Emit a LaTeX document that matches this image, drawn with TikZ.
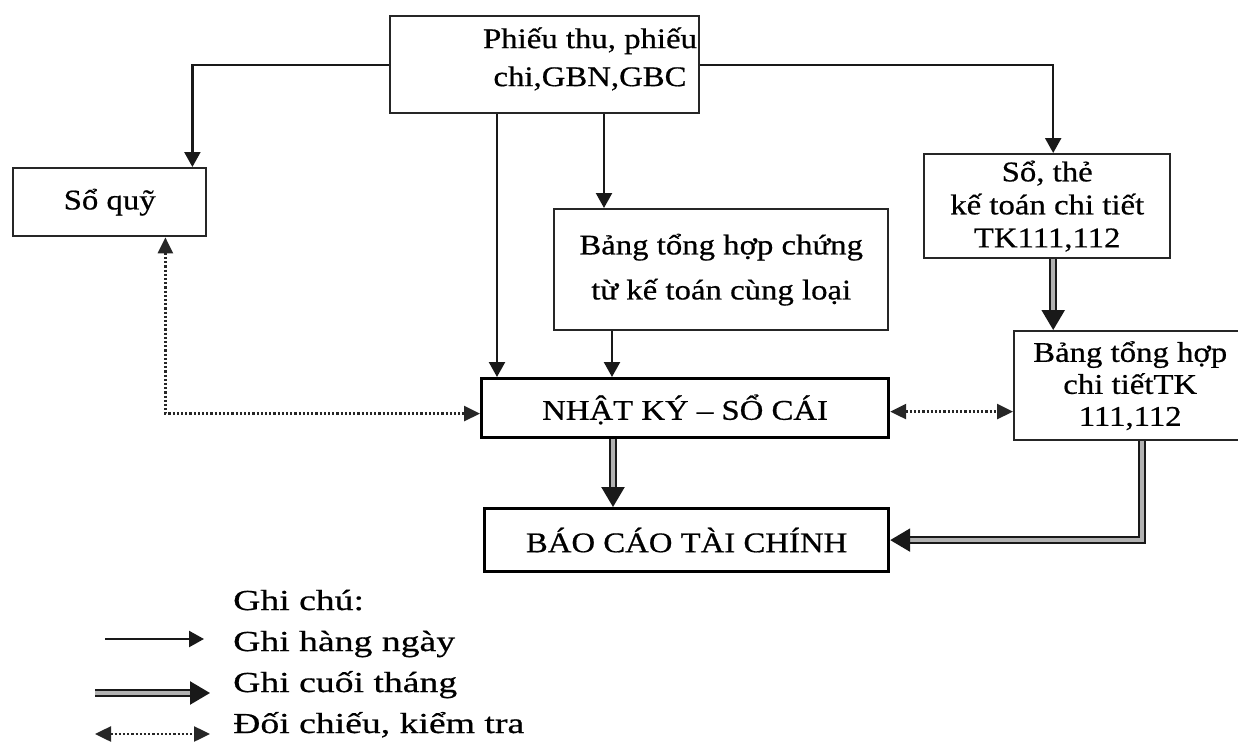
\documentclass[tikz,border=0pt]{standalone}
\usepackage{fontspec}
\setmainfont{Liberation Serif}[FakeStretch=1.15,FakeBold=0.6]
\newfontfamily\legfont{Liberation Serif}[FakeStretch=1.3,FakeBold=0.6]
\usetikzlibrary{arrows.meta,calc}
\begin{document}
\begin{tikzpicture}[x=1bp,y=-1bp,
  box/.style={draw=black!85,line width=2.4bp,rectangle,anchor=north west,inner sep=0pt,align=center,font=\fontsize{28.5bp}{34bp}\selectfont},
  mainbox/.style={box,draw=black,line width=3.2bp},
  arr/.style={draw=black!90,line width=2.3bp,-{Triangle[length=15bp,width=16bp]}},
  dbl/.style={draw=black!90,double=black!30,double distance=3.5bp,line width=2.4bp,-{Triangle[length=20bp,width=23bp]}},
  dotarr/.style={draw=black!85,line width=2.5bp,dash pattern=on 2.2bp off 2bp,{Triangle[length=16bp,width=15bp]}-{Triangle[length=16bp,width=15bp]}},
  legtxt/.style={anchor=base west,inner sep=0pt,font=\legfont\fontsize{29bp}{35bp}\selectfont}
]
\useasboundingbox (0,0) rectangle (1238,749);
\begin{scope}
\clip (0,0) rectangle (1238,749);
\fill[white] (0,0) rectangle (1238,749);
% boxes
\node[box,minimum width=309bp,minimum height=97bp] (top) at (389,15) {};
\node[inner sep=0pt,align=center,font=\fontsize{28.5bp}{38bp}\selectfont] (toptxt) at (590,59) {Phiếu thu, phiếu\\chi,GBN,GBC};
\node[box,minimum width=193bp,minimum height=68bp] (soquy) at (12,167) {Sổ quỹ};
\node[box,minimum width=334bp,minimum height=121bp,font=\fontsize{28.5bp}{45bp}\selectfont] (bthct) at (553,208) {Bảng tổng hợp chứng\\từ kế toán cùng loại};
\node[box,minimum width=246bp,minimum height=104bp,font=\fontsize{28.5bp}{33bp}\selectfont] (sothe) at (923,153) {Sổ, thẻ\\kế toán chi tiết\\TK111,112};
\node[box,minimum width=232bp,minimum height=109bp,font=\fontsize{28.5bp}{32bp}\selectfont] (bthtk) at (1013,330) {Bảng tổng hợp\\chi tiếtTK\\111,112};
\node[mainbox,minimum width=407bp,minimum height=59bp,text depth=2bp] (nksc) at (480,377) {NHẬT KÝ – SỔ CÁI};
\node[mainbox,minimum width=404bp,minimum height=63bp] (bctc) at (483,507) {BÁO CÁO TÀI CHÍNH};
% daily arrows
\draw[arr] (top.west) -| ([xshift=-15bp]soquy.north east);
\draw[arr] (top.east) -| ([xshift=6bp]sothe.north);
\coordinate (t1) at ([xshift=108bp]top.south west);
\draw[arr] (t1) -- (t1 |- nksc.north);
\coordinate (t2) at ([xshift=215bp]top.south west);
\draw[arr] (t2) -- (t2 |- bthct.north);
\coordinate (c1) at ([xshift=59bp]bthct.south west);
\draw[arr] (c1) -- (c1 |- nksc.north);
% month-end arrows
\coordinate (n1) at ([xshift=133bp]nksc.south west);
\draw[dbl] (n1) -- (n1 |- bctc.north);
\coordinate (s1) at ([xshift=6bp]sothe.south);
\draw[dbl] (s1) -- (s1 |- bthtk.north);
\coordinate (b1) at ([xshift=129bp]bthtk.south west);
\draw[dbl] (b1) |- (bctc.east);
% check arrows
\coordinate (q1) at ([xshift=-42bp]soquy.south east);
\draw[dotarr] (q1) |- ([yshift=-5.5bp]nksc.west);
\coordinate (k1) at ([yshift=-3.5bp]nksc.east);
\draw[dotarr] (k1) -- (k1 -| bthtk.west);
% legend
\node[legtxt] (gc) at (233,610) {Ghi chú:};
\node[legtxt] (l1) at (233,651) {Ghi hàng ngày};
\node[legtxt] (l2) at (233,692) {Ghi cuối tháng};
\node[legtxt] (l3) at (233,733) {Đối chiếu, kiểm tra};
\coordinate (a1s) at (105,639); \coordinate (a1e) at (204,639);
\draw[arr] (a1s) -- (a1e);
\coordinate (a2s) at (95,693); \coordinate (a2e) at (210,693);
\draw[dbl] (a2s) -- (a2e);
\coordinate (a3s) at (95,734); \coordinate (a3e) at (210,734);
\draw[dotarr] (a3s) -- (a3e);
\end{scope}
\end{tikzpicture}
\end{document}
